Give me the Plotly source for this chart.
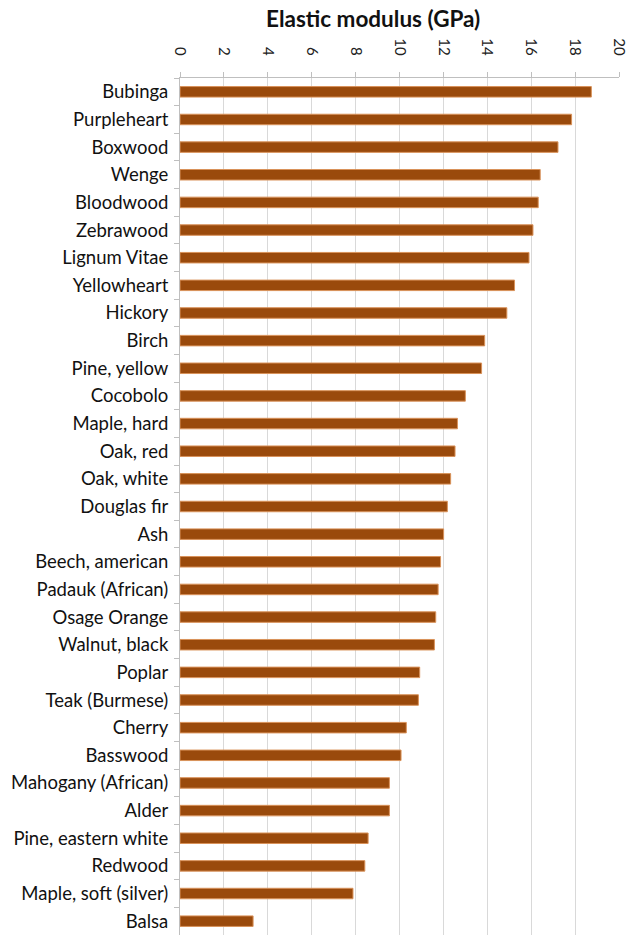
import plotly.graph_objects as go

woods = ["Bubinga", "Purpleheart", "Boxwood", "Wenge", "Bloodwood", "Zebrawood",
         "Lignum Vitae", "Yellowheart", "Hickory", "Birch", "Pine, yellow", "Cocobolo",
         "Maple, hard", "Oak, red", "Oak, white", "Douglas fir", "Ash", "Beech, american",
         "Padauk (African)", "Osage Orange", "Walnut, black", "Poplar", "Teak (Burmese)",
         "Cherry", "Basswood", "Mahogany (African)", "Alder", "Pine, eastern white",
         "Redwood", "Maple, soft (silver)", "Balsa"]
modulus_gpa = [18.74, 17.84, 17.22, 16.41, 16.32, 16.08, 15.90, 15.24, 14.89, 13.88,
               13.74, 13.00, 12.64, 12.53, 12.33, 12.18, 12.01, 11.87, 11.76, 11.65,
               11.59, 10.92, 10.86, 10.31, 10.07, 9.54, 9.54, 8.57, 8.42, 7.88, 3.33]
x_ticks = [0, 2, 4, 6, 8, 10, 12, 14, 16, 18, 20]
title_text = "Elastic modulus (GPa)"

FONT = "Lato"

fig = go.Figure(go.Bar(
    x=modulus_gpa, y=woods, orientation="h", width=0.38,
    marker=dict(color="#9A4A0C", line=dict(color="#D9925A", width=1)),
    hoverinfo="x+y",
))

fig.update_layout(
    width=632, height=947,
    margin=dict(l=180, r=13, t=78, b=12, autoexpand=False),
    paper_bgcolor="white", plot_bgcolor="white",
    showlegend=False,
    font=dict(family=FONT, color="#111111"),
    annotations=[dict(text=f"<b>{title_text}</b>", xref="paper", yref="paper",
                      x=(373 - 180) / (632 - 193), y=1, yshift=60, showarrow=False,
                      xanchor="center", yanchor="middle",
                      font=dict(family=FONT, size=22.5, color="#111111"))],
)
fig.update_xaxes(
    side="top", range=[0, 20], tickvals=x_ticks, ticktext=[str(v) for v in x_ticks],
    tickangle=90, tickfont=dict(family=FONT, size=15, color="#222222"),
    showgrid=True, gridcolor="#D9D9D9", gridwidth=1,
    showline=True, linecolor="#BFBFBF", linewidth=1,
    ticks="outside", ticklen=5, tickcolor="#BFBFBF",
    ticklabelstandoff=11, zeroline=False, automargin=False,
)
fig.update_yaxes(
    autorange="reversed", type="category",
    tickfont=dict(family=FONT, size=18.5, color="#111111"),
    showline=True, linecolor="#BFBFBF", linewidth=1,
    ticks="outside", ticklen=5, tickcolor="#BFBFBF", tickson="boundaries",
    ticklabelstandoff=7, showgrid=False, automargin=False,
)

fig.write_html("out.html")
